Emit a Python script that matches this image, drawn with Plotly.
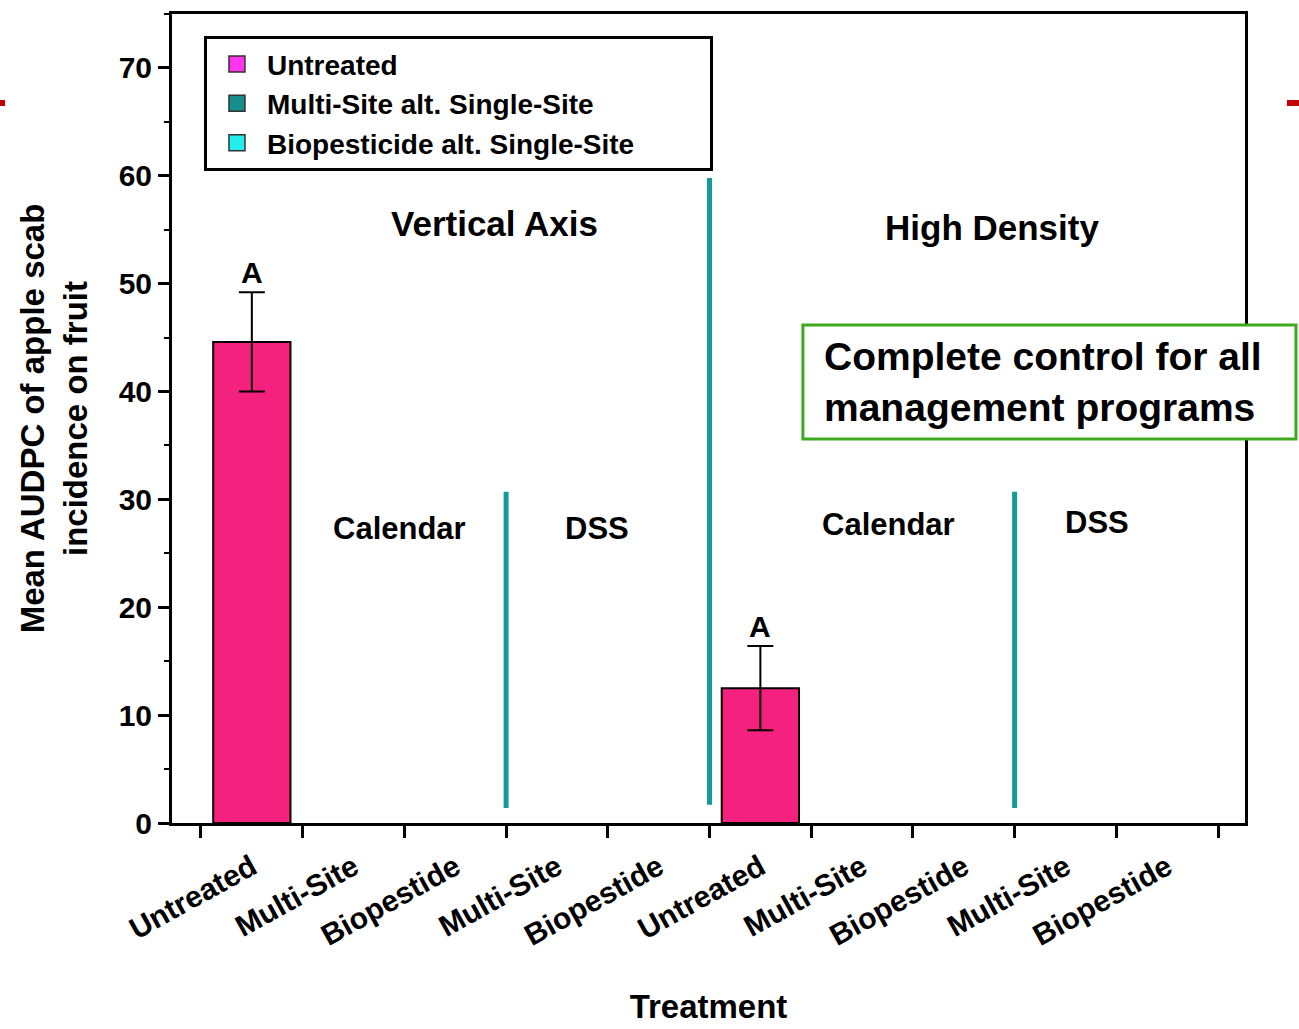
import plotly.graph_objects as go

# Treatment categories along the x axis (two orchard systems, five programs each)
treatments = ["Untreated", "Multi-Site", "Biopestide", "Multi-Site", "Biopestide",
              "Untreated", "Multi-Site", "Biopestide", "Multi-Site", "Biopestide"]
positions = list(range(len(treatments)))

# Mean AUDPC of apple scab incidence on fruit and its error
untreated_pos = [0, 5]
untreated_mean = [44.6, 12.5]
untreated_err = [4.6, 3.9]
untreated_letters = ["A", "A"]

multisite_pos = [1, 3, 6, 8]
multisite_mean = [0, 0, 0, 0]

biopest_pos = [2, 4, 7, 9]
biopest_mean = [0, 0, 0, 0]

# Dividers between timing groups and orchard systems (x, bottom, top)
divider_x = [2.5, 4.5, 7.5]
divider_bottom = [1.4, 1.7, 1.4]
divider_top = [30.7, 59.8, 30.7]

# Group headings (text, x, y)
group_text = ["Vertical Axis", "High Density"]
group_x = [2.39, 7.28]
group_y = [55.6, 55.2]
timing_text = ["Calendar", "DSS", "Calendar", "DSS"]
timing_x = [1.45, 3.39, 6.26, 8.31]
timing_y = [27.3, 27.3, 27.7, 27.9]

FONT = "Liberation Sans"
PINK = "#F5217F"
MAGENTA = "#FF33F0"
TEAL = "#168E8C"
CYAN = "#22EEEE"
DIVIDER = "#139A9B"
GREEN = "#3DA91F"

fig = go.Figure()

# legend swatches (trailing non-breaking spaces widen the legend box)
PAD = "\u00a0" * 9
for name, col in [("Untreated", MAGENTA),
                  ("Multi-Site alt. Single-Site", TEAL),
                  ("Biopesticide alt. Single-Site" + PAD, CYAN)]:
    fig.add_trace(go.Scatter(x=[None], y=[None], mode="markers", name=name,
                             marker=dict(symbol="square", size=30, color=col,
                                         line=dict(color="#333333", width=1.5))))

fig.add_trace(go.Bar(x=untreated_pos, y=untreated_mean, width=0.76,
                     marker=dict(color=PINK, line=dict(color="black", width=2)),
                     error_y=dict(type="data", array=untreated_err, color="black",
                                  thickness=2, width=13),
                     showlegend=False))
fig.add_trace(go.Bar(x=multisite_pos, y=multisite_mean, width=0.76,
                     marker=dict(color=TEAL, line=dict(width=0)),
                     showlegend=False))
fig.add_trace(go.Bar(x=biopest_pos, y=biopest_mean, width=0.76,
                     marker=dict(color=CYAN, line=dict(width=0)),
                     showlegend=False))

# vertical separators
sep_x, sep_y = [], []
for xv, y0, y1 in zip(divider_x, divider_bottom, divider_top):
    sep_x += [xv, xv, None]
    sep_y += [y0, y1, None]
fig.add_trace(go.Scatter(x=sep_x, y=sep_y, mode="lines",
                         line=dict(color=DIVIDER, width=5), showlegend=False,
                         hoverinfo="skip"))

annotations = []
for xv, m, e, t in zip(untreated_pos, untreated_mean, untreated_err, untreated_letters):
    annotations.append(dict(x=xv, y=m + e, text=t, showarrow=False, yanchor="bottom",
                            yshift=1, font=dict(size=30, family=FONT, color="black",
                                                weight="bold")))
for t, xv, yv in zip(group_text, group_x, group_y):
    annotations.append(dict(x=xv, y=yv, text=t, showarrow=False,
                            font=dict(size=35, family=FONT, color="black", weight="bold")))
for t, xv, yv in zip(timing_text, timing_x, timing_y):
    annotations.append(dict(x=xv, y=yv, text=t, showarrow=False,
                            font=dict(size=31, family=FONT, color="black", weight="bold")))
# call-out text inside the green box
annotations.append(dict(xref="paper", yref="paper", x=0.6058, y=0.545,
                        xanchor="left", yanchor="middle",
                        text="Complete control for all<br>management programs",
                        showarrow=False, align="left",
                        font=dict(size=39, family=FONT, color="black", weight="bold")))

shapes = [
    # green call-out box (white fill hides the frame behind it)
    dict(type="rect", xref="paper", yref="paper", x0=0.588, x1=1.0475,
         y0=0.4747, y1=0.6156, fillcolor="white", layer="above",
         line=dict(color=GREEN, width=3)),
    # small red slide markers at the page edges
    dict(type="rect", xref="paper", yref="paper", x0=-0.1603, x1=-0.1556,
         y0=0.8863, y1=0.8937, fillcolor="#C00000", line=dict(width=0)),
    dict(type="rect", xref="paper", yref="paper", x0=1.0391, x1=1.0503,
         y0=0.8863, y1=0.8937, fillcolor="#C00000", line=dict(width=0)),
]

fig.update_layout(
    width=1299, height=1029,
    margin=dict(l=172, r=54, t=14, b=206),
    paper_bgcolor="white", plot_bgcolor="white",
    font=dict(family=FONT, color="black", weight="bold"),
    barmode="overlay",
    showlegend=True,
    legend=dict(x=0.0298, y=0.9725, xanchor="left", yanchor="top",
                bgcolor="white", bordercolor="black", borderwidth=3,
                font=dict(size=28, family=FONT, color="black", weight="bold"),
                itemsizing="trace", itemwidth=50, tracegroupgap=0),
    annotations=annotations,
    shapes=shapes,
)

fig.update_xaxes(
    range=[-0.785, 9.765], automargin=False,
    tickmode="array", tickvals=positions, ticktext=treatments,
    tickangle=-29, ticks="outside", ticklen=12, tickcolor="rgba(0,0,0,0)",
    tickfont=dict(size=30, family=FONT, color="black", weight="bold"),
    minor=dict(tickmode="array", tickvals=[p - 0.5 for p in positions] + [positions[-1] + 0.5],
               ticks="outside", ticklen=12, tickwidth=3, tickcolor="black"),
    showline=True, linecolor="black", linewidth=3, mirror=True,
    showgrid=False, zeroline=False,
    title=dict(text="Treatment", standoff=45,
               font=dict(size=33, family=FONT, color="black", weight="bold")),
)
fig.update_yaxes(
    range=[0, 75], automargin=False, tickmode="linear", tick0=0, dtick=10,
    ticks="outside", ticklen=11, tickwidth=3, tickcolor="black",
    minor=dict(tick0=0, dtick=5, ticks="outside", ticklen=5, tickwidth=2,
               tickcolor="black"),
    tickfont=dict(size=30, family=FONT, color="black", weight="bold"),
    showline=True, linecolor="black", linewidth=3, mirror=True,
    showgrid=False, zeroline=False,
    title=dict(text="Mean AUDPC of apple scab<br>incidence on fruit", standoff=22,
               font=dict(size=33, family=FONT, color="black", weight="bold")),
)

fig.write_html("out.html")
